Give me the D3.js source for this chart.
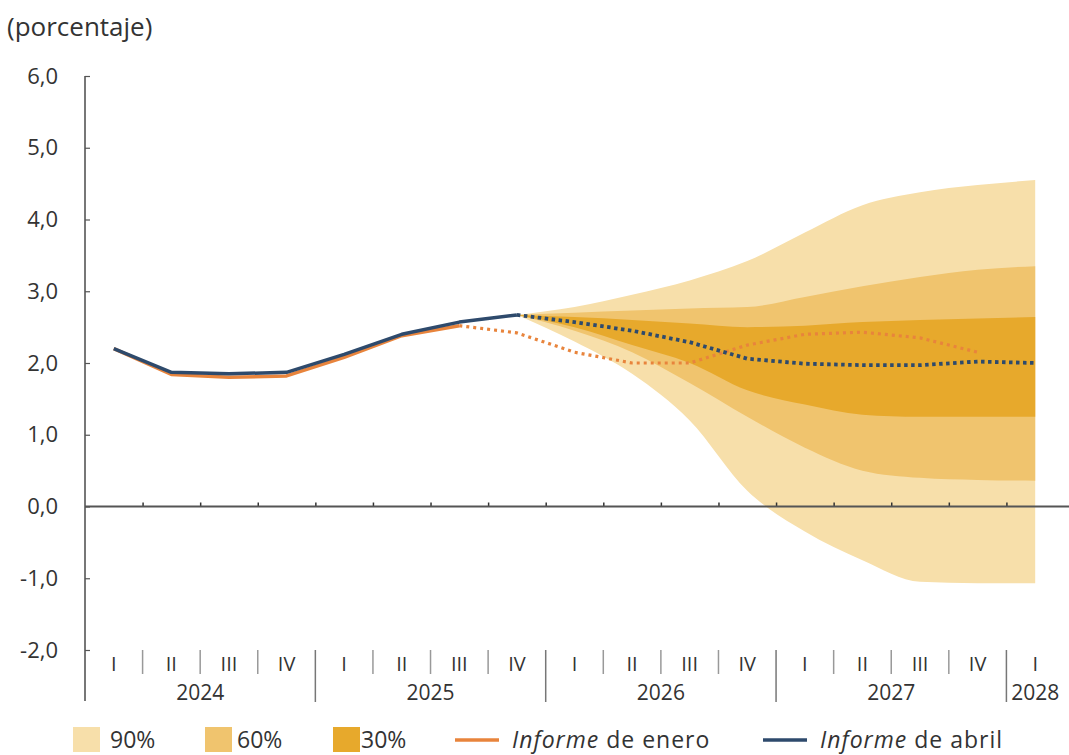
<!DOCTYPE html>
<html>
<head>
<meta charset="utf-8">
<script src="https://cdn.jsdelivr.net/npm/d3@7"></script>
<style>
  html, body { margin: 0; padding: 0; background: #fff; }
  svg text { font-family: "Open Sans", "Noto Sans", sans-serif; fill: #333; }
</style>
</head>
<body>
<svg id="chart" width="1069" height="755"></svg>
<script>
// ---------- data ----------
const quarterLabels = ["I","II","III","IV","I","II","III","IV","I","II","III","IV","I","II","III","IV","I"];
const years = ["2024","2025","2026","2027","2028"];
const yearStartIndex = [0, 4, 8, 12, 16];
const yearEndIndex = [3, 7, 11, 15, 16];
const yTicks = [-2, -1, 0, 1, 2, 3, 4, 5, 6];

// Informe de abril (index 0..16); observed up to index 7, projection after
const abril = [2.20, 1.87, 1.85, 1.87, 2.12, 2.40, 2.57, 2.67, 2.57, 2.45, 2.29, 2.06, 1.99, 1.97, 1.97, 2.02, 2.00];
const abrilLastObserved = 7;
// Informe de enero (index 0..15); observed up to index 6
const enero = [2.20, 1.84, 1.80, 1.82, 2.08, 2.38, 2.52, 2.42, 2.15, 2.00, 2.00, 2.25, 2.40, 2.43, 2.35, 2.15];
const eneroLastObserved = 6;

// Fan chart bands, index 7..16
const fanIndex = [7, 8, 9, 10, 11, 12, 13, 14, 15, 16];
const upper90 = [2.67, 2.78, 2.95, 3.15, 3.42, 3.82, 4.20, 4.38, 4.48, 4.55];
const upper60 = [2.67, 2.70, 2.73, 2.76, 2.78, 2.92, 3.07, 3.20, 3.30, 3.35];
const upper30 = [2.67, 2.64, 2.60, 2.55, 2.50, 2.52, 2.57, 2.60, 2.62, 2.64];
const lower30 = [2.67, 2.50, 2.25, 2.00, 1.62, 1.42, 1.28, 1.25, 1.25, 1.25];
const lower60 = [2.67, 2.45, 2.15, 1.72, 1.25, 0.82, 0.50, 0.40, 0.37, 0.36];
const lower90 = [2.67, 2.30, 1.85, 1.20, 0.22, -0.35, -0.75, -1.05, -1.07, -1.07];

const legendLabels = ["90%", "60%", "30%"];

// ---------- styles ----------
const C90 = "#F7DFAA", C60 = "#F0C46E", C30 = "#E7A92C";
const BLUE = "#2E4A6C", ORANGE = "#E8843C";

const svg = d3.select("#chart");
const x = d3.scaleLinear().domain([-0.5, 16.5]).range([85, 1064]);
const y = d3.scaleLinear().domain([-2, 6]).range([650, 76]);
const fmt = d3.formatLocale({decimal: ",", thousands: ".", grouping: [3], currency: ["", "€"], minus: "-"}).format(".1f");

// title
svg.append("text").attr("x", 7).attr("y", 36).style("font-size", "26px").text("(porcentaje)");

// ---------- fan ----------
const fanData = fanIndex.map((d, k) => ({i: d, u90: upper90[k], u60: upper60[k], u30: upper30[k], l30: lower30[k], l60: lower60[k], l90: lower90[k]}));
const band = (lo, hi) => d3.area().curve(d3.curveMonotoneX).x(d => x(d.i)).y0(d => y(d[lo])).y1(d => y(d[hi]));
svg.append("path").datum(fanData).attr("d", band("l90", "u90")).attr("fill", C90);
svg.append("path").datum(fanData).attr("d", band("l60", "u60")).attr("fill", C60);
svg.append("path").datum(fanData).attr("d", band("l30", "u30")).attr("fill", C30);

// ---------- y axis ----------
const yAxis = d3.axisLeft(y).tickValues(yTicks).tickSize(-5).tickPadding(27).tickFormat(fmt);
const gy = svg.append("g").attr("transform", "translate(85,0)").call(yAxis);
gy.select(".domain").remove();
gy.selectAll(".tick line").attr("stroke", "#555").attr("stroke-width", 1.2);
gy.selectAll(".tick text").style("font-size", "22px").attr("fill", "#333").attr("font-family", null);
svg.append("line").attr("x1", 85).attr("x2", 85).attr("y1", y(6)).attr("y2", 701)
  .attr("stroke", "#555").attr("stroke-width", 1.6);

// ---------- zero line with quarter ticks ----------
const boundaries = d3.range(1, 17).map(i => i - 0.5);
const xAxis = d3.axisTop(x).tickValues(boundaries).tickSize(4).tickFormat("");
const gx = svg.append("g").attr("transform", `translate(0,${y(0)})`).call(xAxis);
gx.select(".domain").remove();
gx.selectAll(".tick line").attr("stroke", "#333").attr("stroke-width", 1.5);
svg.append("line").attr("x1", 85).attr("x2", 1069).attr("y1", y(0)).attr("y2", y(0))
  .attr("stroke", "#555").attr("stroke-width", 2);

// ---------- category axis at the bottom ----------
const gb = svg.append("g");
quarterLabels.forEach((q, i) => {
  gb.append("text").attr("x", x(i)).attr("y", 671).attr("text-anchor", "middle")
    .style("font-size", "20px").text(q);
});
boundaries.forEach(b => {
  const major = yearStartIndex.includes(b + 0.5);
  gb.append("line").attr("x1", x(b)).attr("x2", x(b))
    .attr("y1", 650).attr("y2", major ? 702 : 674)
    .attr("stroke", major ? "#777" : "#999").attr("stroke-width", 1.5);
});
years.forEach((yr, k) => {
  const cx = (x(yearStartIndex[k] - 0.5) + x(yearEndIndex[k] + 0.5)) / 2;
  gb.append("text").attr("x", cx).attr("y", 700).attr("text-anchor", "middle")
    .style("font-size", "21px").text(yr);
});

// ---------- lines ----------
const line = d3.line().x(d => x(d.i)).y(d => y(d.v));
const eneroPts = enero.map((v, i) => ({i, v}));
const abrilPts = abril.map((v, i) => ({i, v}));

svg.append("path").datum(eneroPts.slice(0, eneroLastObserved + 1)).attr("d", line)
  .attr("fill", "none").attr("stroke", ORANGE).attr("stroke-width", 3.5).attr("stroke-linejoin", "round");
svg.append("path").datum(eneroPts.slice(eneroLastObserved)).attr("d", line)
  .attr("fill", "none").attr("stroke", ORANGE).attr("stroke-width", 3.2).attr("stroke-dasharray", "3,4");

svg.append("path").datum(abrilPts.slice(0, abrilLastObserved + 1)).attr("d", line)
  .attr("fill", "none").attr("stroke", BLUE).attr("stroke-width", 3.5).attr("stroke-linejoin", "round");
svg.append("path").datum(abrilPts.slice(abrilLastObserved)).attr("d", line)
  .attr("fill", "none").attr("stroke", BLUE).attr("stroke-width", 3.8).attr("stroke-dasharray", "3.5,3.5");

// ---------- legend ----------
const lg = svg.append("g");
const swX = [73, 205, 333];
const swC = [C90, C60, C30];
const txX = [110, 237, 361];
legendLabels.forEach((l, k) => {
  lg.append("rect").attr("x", swX[k]).attr("y", 727).attr("width", 27).attr("height", 25).attr("fill", swC[k]);
  lg.append("text").attr("x", txX[k]).attr("y", 748).style("font-size", "23px").text(l);
});
const series = [{c: ORANGE, x0: 455, tx: 512, month: "enero"}, {c: BLUE, x0: 763, tx: 820, month: "abril"}];
series.forEach(s => {
  lg.append("line").attr("x1", s.x0).attr("x2", s.x0 + 44).attr("y1", 740).attr("y2", 740)
    .attr("stroke", s.c).attr("stroke-width", 3.5);
  const t = lg.append("text").attr("x", s.tx).attr("y", 748).style("font-size", "23px")
    .style("letter-spacing", "1px");
  t.append("tspan").style("font-style", "italic").text("Informe");
  t.append("tspan").text(" de " + s.month);
});
</script>
</body>
</html>
